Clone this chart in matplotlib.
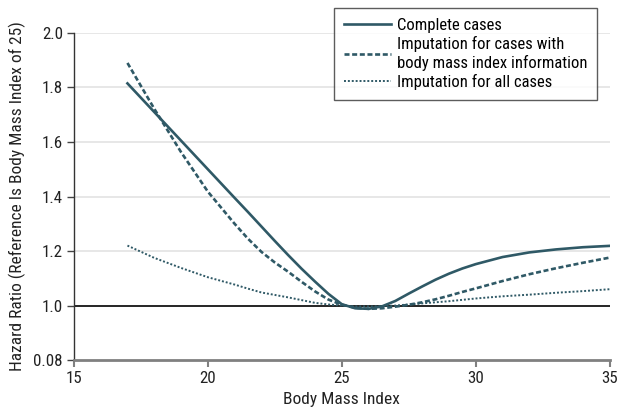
import matplotlib
matplotlib.use("Agg")
import matplotlib.pyplot as plt
from matplotlib import font_manager

bmi = [17, 18, 19, 20, 21, 21.5, 22, 22.5, 23, 23.5, 24, 24.5, 25, 25.5, 26, 26.5, 27, 27.5, 28, 28.5, 29, 29.5, 30, 31, 32, 33, 34, 35]
complete = [1.815, 1.71, 1.605, 1.50, 1.395, 1.343, 1.29, 1.237, 1.185, 1.135, 1.088, 1.043, 1.005, 0.99, 0.988, 0.997, 1.017, 1.044, 1.07, 1.095, 1.117, 1.136, 1.152, 1.178, 1.195, 1.206, 1.214, 1.219]
imput_bmi = [1.89, 1.722, 1.563, 1.418, 1.30, 1.245, 1.197, 1.158, 1.124, 1.087, 1.052, 1.022, 1.003, 0.992, 0.988, 0.99, 0.996, 1.003, 1.012, 1.023, 1.036, 1.05, 1.063, 1.09, 1.115, 1.137, 1.157, 1.176]
imput_all = [1.22, 1.175, 1.138, 1.104, 1.077, 1.062, 1.048, 1.039, 1.03, 1.02, 1.01, 1.004, 1.0, 0.997, 0.997, 0.998, 1.0, 1.004, 1.008, 1.012, 1.016, 1.021, 1.026, 1.034, 1.04, 1.047, 1.053, 1.06]

labels = ["Complete cases",
          "Imputation for cases with\nbody mass index information",
          "Imputation for all cases"]
yticks = [0.8, 1.0, 1.2, 1.4, 1.6, 1.8, 2.0]
ytick_labels = ["0.08", "1.0", "1.2", "1.4", "1.6", "1.8", "2.0"]
xticks = [15, 20, 25, 30, 35]

names = {f.name for f in font_manager.fontManager.ttflist}
fam = "DejaVu Sans"
for cand in ["Roboto Condensed", "Fira Sans Condensed", "IBM Plex Sans Condensed",
             "Asap Condensed", "PT Sans Narrow", "Archivo Narrow", "Liberation Sans Narrow"]:
    if cand in names:
        fam = cand
        break
plt.rcParams['font.family'] = [fam, 'DejaVu Sans']

color = "#2f5966"
text_color = "#222222"
fig = plt.figure(figsize=(6.26, 4.12), dpi=100)
ax = fig.add_axes([0.118, 0.126, 0.856, 0.794])

for y in yticks[2:]:
    ax.axhline(y, color="#e3e3e3", lw=1.2, zorder=0)
ax.axhline(1.0, color="black", lw=1.2, zorder=1)

l1, = ax.plot(bmi, complete, color=color, lw=1.9, ls="-", label=labels[0], zorder=3)
l2, = ax.plot(bmi, imput_bmi, color=color, lw=1.9, ls=(0, (1.9, 1.0)), label=labels[1], zorder=3)
l3, = ax.plot(bmi, imput_all, color=color, lw=1.4, ls=(0, (1, 1)), label=labels[2], zorder=3)

ax.set_xlim(15, 35)
ax.set_ylim(0.8, 2.0)
ax.set_xticks(xticks)
ax.set_yticks(yticks)
ax.set_yticklabels(ytick_labels)
ax.tick_params(axis="both", labelsize=12.2, colors=text_color, length=5, width=1, pad=3)
ax.tick_params(axis="x", color="#808080", width=1.5)
ax.tick_params(axis="y", color="#444444")
for s in ["top", "right"]:
    ax.spines[s].set_visible(False)
ax.spines["left"].set_color("#333333")
ax.spines["left"].set_linewidth(1.0)
ax.spines["bottom"].set_color("#808080")
ax.spines["bottom"].set_linewidth(2.0)

ax.set_xlabel("Body Mass Index", fontsize=12.5, color=text_color, labelpad=4)
ax.set_ylabel("Hazard Ratio (Reference Is Body Mass Index of 25)", fontsize=12.5, color=text_color, labelpad=5)

leg = fig.legend(handles=[l1, l2, l3], loc="upper right", bbox_to_anchor=(0.954, 0.981),
                 fontsize=12, frameon=True, fancybox=False, edgecolor="#333333",
                 handlelength=2.8, handletextpad=0.35, borderpad=0.6, labelspacing=0.2,
                 borderaxespad=0)
leg.get_frame().set_linewidth(1.0)

fig.savefig("out.png", dpi=100)
